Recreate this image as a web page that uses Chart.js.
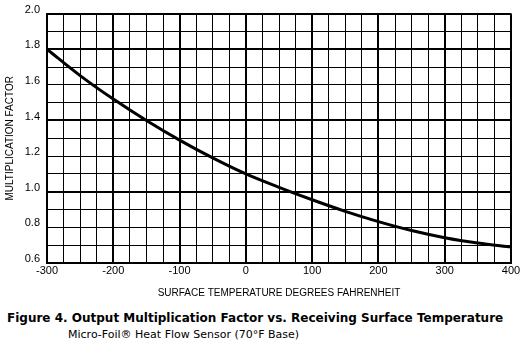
<!DOCTYPE html>
<html>
<head>
<meta charset="utf-8">
<script src="https://cdn.jsdelivr.net/npm/chart.js@4/dist/chart.umd.min.js"></script>
<style>
  html, body { margin: 0; padding: 0; background: #fff; }
  #wrap { position: relative; width: 522px; height: 345px; }
  #chart { position: absolute; left: 0; top: 0; }
  .cap { position: absolute; white-space: nowrap; color: #000; }
  #fig { left: 7px; top: 311px; font: bold 12px "DejaVu Sans", sans-serif; }
  #sub { left: 68px; top: 328px; font: 11px "DejaVu Sans", sans-serif; }
</style>
</head>
<body>
<div id="wrap">
  <canvas id="chart" width="522" height="305"></canvas>
  <div class="cap" id="fig">Figure 4. Output Multiplication Factor vs. Receiving Surface Temperature</div>
  <div class="cap" id="sub">Micro-Foil® Heat Flow Sensor (70°F Base)</div>
</div>
<script>
// ---- data ----
const temps   = [-300, -250, -200, -150, -100, -50, 0, 50, 100, 150, 200, 250, 300, 350, 400]
const factors = [1.80, 1.652, 1.52, 1.40, 1.29, 1.19, 1.10, 1.025, 0.955, 0.89, 0.832, 0.782, 0.742, 0.712, 0.69]

const xTitle = 'SURFACE TEMPERATURE DEGREES FAHRENHEIT'
const yTitle = 'MULTIPLICATION FACTOR'

const FONT = "'Liberation Sans', Arial, sans-serif"

// thick grid every 100°F and every 0.4 from 0.6
const xThick = v => v % 100 === 0
const yThick = v => {
  const k = Math.round(v * 10)
  return (k - 6) % 4 === 0 || k === 20
}

new Chart(document.getElementById('chart'), {
  type: 'line',
  data: {
    datasets: [{
      data: temps.map((t, i) => ({ x: t, y: factors[i] })),
      borderColor: '#000',
      borderWidth: 3,
      pointRadius: 0,
      cubicInterpolationMode: 'monotone',
      fill: false,
    }]
  },
  options: {
    responsive: false,
    animation: false,
    events: [],
    layout: { padding: { top: 11, right: 11, left: 0, bottom: 0 } },
    plugins: { legend: { display: false }, tooltip: { enabled: false } },
    scales: {
      x: {
        type: 'linear', min: -300, max: 400,
        afterFit: s => { s.height = 42 },
        ticks: {
          stepSize: 25, autoSkip: false, maxRotation: 0,
          color: '#000', padding: 1,
          font: { family: FONT, size: 11 },
          callback: v => v % 100 === 0 ? String(v) : ''
        },
        grid: {
          color: '#000', drawTicks: false,
          lineWidth: ctx => xThick(ctx.tick.value) ? 2 : 1
        },
        border: { color: '#000', width: 2 },
        title: {
          display: true, text: xTitle, color: '#000',
          font: { family: FONT, size: 10 }, padding: { top: 0, bottom: 6 }
        }
      },
      y: {
        min: 0.6, max: 2.0,
        afterFit: s => { s.width = 47 },
        ticks: {
          stepSize: 0.1, autoSkip: false,
          color: '#000', padding: 7, labelOffset: -4,
          font: { family: FONT, size: 11 },
          callback: v => Math.round(v * 10) % 2 === 0 ? v.toFixed(1) : ''
        },
        grid: {
          color: '#000', drawTicks: false,
          lineWidth: ctx => yThick(ctx.tick.value) ? 2 : 1
        },
        border: { color: '#000', width: 2 },
        title: {
          display: true, text: yTitle, color: '#000',
          font: { family: FONT, size: 10 }, padding: { top: 4, bottom: 0 }
        }
      }
    }
  }
})
</script>
</body>
</html>
